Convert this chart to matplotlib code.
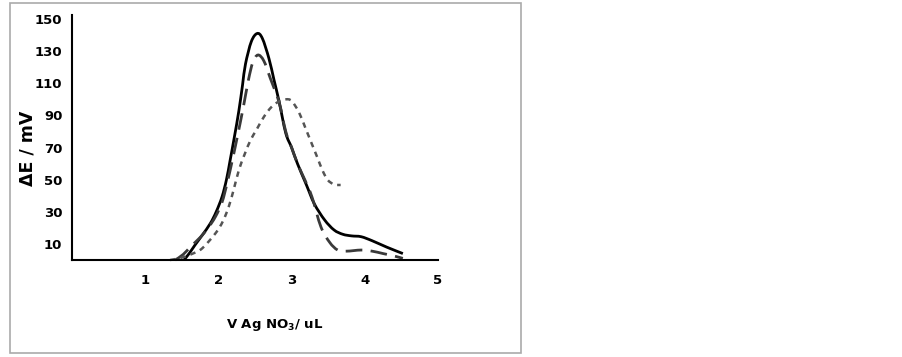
import matplotlib
matplotlib.use('Agg')
import matplotlib.pyplot as plt
from matplotlib.patches import Rectangle, PathPatch
from matplotlib.path import Path

# solid curve
x_solid = [1.53, 1.60, 1.68, 1.78, 1.89, 1.97, 2.05, 2.11, 2.16, 2.22, 2.28, 2.33,
           2.37, 2.45, 2.53, 2.60, 2.69, 2.76, 2.83, 2.92, 3.00, 3.08, 3.20, 3.31,
           3.45, 3.58, 3.70, 3.82, 3.95, 4.10, 4.30, 4.52]
y_solid = [0, 4, 9.3, 15.5, 22.8, 30, 39.4, 50, 62, 77, 93, 109,
           122, 136, 141, 138, 125.5, 112, 98.5, 79, 70, 60, 47, 35,
           25, 18.7, 16, 15, 14.5, 12, 8, 4]

# long dashed curve
x_long = [1.41, 1.52, 1.62, 1.75, 1.86, 1.96, 2.05, 2.12, 2.19, 2.26, 2.34, 2.41,
          2.47, 2.54, 2.62, 2.71, 2.83, 2.92, 3.00, 3.08, 3.18, 3.28, 3.40, 3.52,
          3.63, 3.75, 3.95, 4.10, 4.25, 4.40, 4.52]
y_long = [0, 3.5, 8.3, 14, 20, 27, 36, 48, 62, 77, 95, 112,
          123, 127.6, 124, 113, 98, 80, 70, 60, 50, 39, 20.7, 11,
          6.2, 5.5, 6.2, 5.5, 4, 2.5, 1]

# short dashed curve
x_short = [1.34, 1.50, 1.65, 1.78, 1.96, 2.06, 2.14, 2.21, 2.28, 2.36, 2.44, 2.52,
           2.62, 2.72, 2.82, 2.92, 3.00, 3.10, 3.19, 3.27, 3.35, 3.42, 3.49, 3.58, 3.67]
y_short = [0, 1.5, 4, 7.3, 16.6, 24, 33, 44, 56, 66, 74.7, 81,
           89, 95, 98.5, 100, 99, 92, 82, 73, 64, 56, 50, 47, 46.7]

xticks = [1, 2, 3, 4, 5]
yticks = [10, 30, 50, 70, 90, 110, 130, 150]


def smooth_path(xs, ys):
    # catmull-rom through the points, drawn as bezier segments
    pts = list(zip(xs, ys))
    verts = [pts[0]]
    codes = [Path.MOVETO]
    n = len(pts)
    for i in range(n - 1):
        p0 = pts[max(i - 1, 0)]
        p1 = pts[i]
        p2 = pts[i + 1]
        p3 = pts[min(i + 2, n - 1)]
        c1 = (p1[0] + (p2[0] - p0[0]) / 6, p1[1] + (p2[1] - p0[1]) / 6)
        c2 = (p2[0] - (p3[0] - p1[0]) / 6, p2[1] - (p3[1] - p1[1]) / 6)
        verts += [c1, c2, p2]
        codes += [Path.CURVE4] * 3
    return Path(verts, codes)


fig = plt.figure(figsize=(9.03, 3.57), dpi=100)
fig.patches.append(Rectangle((10/903, 1-353/357), 511/903, 350/357,
                             transform=fig.transFigure, fill=False,
                             edgecolor='#aaaaaa', linewidth=1.2))

ax = fig.add_axes([72/903, 1-260/357, 366/903, 245/357])
ax.add_patch(PathPatch(smooth_path(x_solid, y_solid), fill=False,
                       edgecolor='black', lw=2.0, clip_on=False))
ax.add_patch(PathPatch(smooth_path(x_long, y_long), fill=False,
                       edgecolor='#3a3a3a', lw=2.0, linestyle=(0, (6, 3)), clip_on=False))
ax.add_patch(PathPatch(smooth_path(x_short, y_short), fill=False,
                       edgecolor='#555555', lw=1.8, linestyle=(0, (2.2, 2)), clip_on=False))

ax.set_xlim(0, 5)
ax.set_ylim(0, 152.5)
ax.set_xticks(xticks)
ax.set_yticks(yticks)
ax.tick_params(length=0)
ax.tick_params(axis='x', pad=10)
ax.tick_params(axis='y', pad=7)
for lab in ax.get_xticklabels() + ax.get_yticklabels():
    lab.set_fontweight('bold')
    lab.set_fontsize(9.5)
for s in ['top', 'right']:
    ax.spines[s].set_visible(False)
for s in ['left', 'bottom']:
    ax.spines[s].set_linewidth(1.5)

fig.text(275/903, 1-325/357, r'V Ag NO$_\mathbf{3}$/ uL', ha='center', va='center',
         fontsize=9.5, fontweight='bold')
fig.text(28/903, 1-148/357, '\u0394E / mV', ha='center', va='center',
         rotation=90, fontsize=12.5, fontweight='bold')

fig.savefig('out.png', dpi=100)
